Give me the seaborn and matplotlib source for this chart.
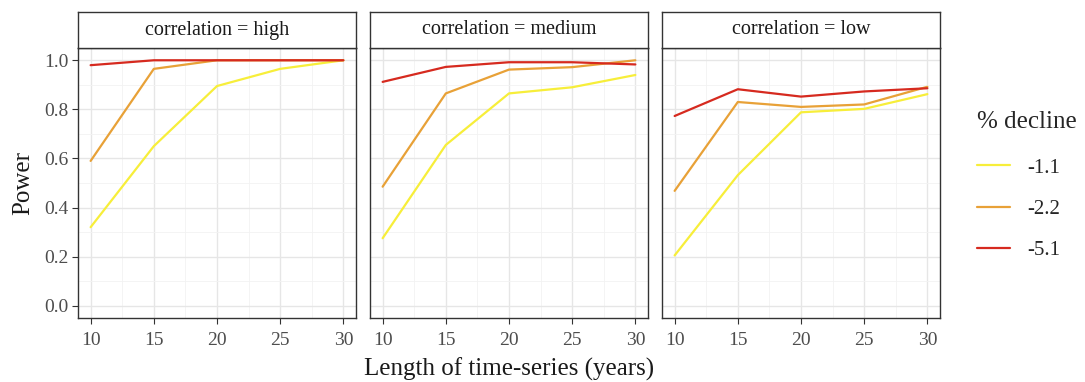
import numpy as np
import pandas as pd
import seaborn as sns
import matplotlib.pyplot as plt
from matplotlib.lines import Line2D
from matplotlib.ticker import MultipleLocator

# values
years = [10, 15, 20, 25, 30]
correlations = ["high", "medium", "low"]
declines = ["-1.1", "-2.2", "-5.1"]

high_11 = [0.32, 0.65, 0.895, 0.965, 1.0]
high_22 = [0.59, 0.965, 1.0, 1.0, 1.0]
high_51 = [0.98, 1.0, 1.0, 1.0, 1.0]

medium_11 = [0.275, 0.655, 0.865, 0.89, 0.94]
medium_22 = [0.485, 0.865, 0.962, 0.972, 1.0]
medium_51 = [0.912, 0.973, 0.992, 0.992, 0.983]

low_11 = [0.205, 0.532, 0.788, 0.802, 0.862]
low_22 = [0.468, 0.83, 0.81, 0.82, 0.892]
low_51 = [0.773, 0.882, 0.852, 0.873, 0.886]

series = {
    ("high", "-1.1"): high_11, ("high", "-2.2"): high_22, ("high", "-5.1"): high_51,
    ("medium", "-1.1"): medium_11, ("medium", "-2.2"): medium_22, ("medium", "-5.1"): medium_51,
    ("low", "-1.1"): low_11, ("low", "-2.2"): low_22, ("low", "-5.1"): low_51,
}

rows = []
for (corr, dec), vals in series.items():
    for yr, v in zip(years, vals):
        rows.append({"correlation": corr, "decline": dec, "years": yr, "power": v})
df = pd.DataFrame(rows)

colors = {"-1.1": "#F7EE3A", "-2.2": "#E8A137", "-5.1": "#D62A1F"}

sns.set_style("white")
plt.rcParams["font.family"] = ["Liberation Serif", "DejaVu Serif"]

fig = plt.figure(figsize=(10.85, 3.82), dpi=100)
W, H = 1085, 382
lefts = [78, 370, 662]
pw = 278
top, bottom = 48, 318

axes = []
for i, corr in enumerate(correlations):
    ax = fig.add_axes([lefts[i] / W, (H - bottom) / H, pw / W, (bottom - top) / H])
    axes.append(ax)
    sub = df[df["correlation"] == corr]
    sns.lineplot(data=sub, x="years", y="power", hue="decline", hue_order=declines,
                 palette=colors, linewidth=1.6, legend=False, ax=ax)
    ax.set_xlim(9, 31)
    ax.set_ylim(-0.05, 1.05)
    ax.set_xticks(years)
    ax.xaxis.set_minor_locator(MultipleLocator(2.5))
    ax.set_yticks([0.0, 0.2, 0.4, 0.6, 0.8, 1.0])
    ax.yaxis.set_minor_locator(MultipleLocator(0.1))
    ax.grid(True, which="major", color="#E6E6E6", linewidth=1.0)
    ax.grid(True, which="minor", color="#F2F2F2", linewidth=0.6)
    ax.set_axisbelow(True)
    for sp in ax.spines.values():
        sp.set_color("#333333")
        sp.set_linewidth(1.0)
    ax.tick_params(axis="both", which="major", length=4, color="#333333", pad=3,
                   labelsize=14, labelcolor="#4D4D4D", direction="out", bottom=True, left=(i == 0))
    ax.tick_params(axis="x", pad=6)
    ax.tick_params(which="minor", length=0)
    ax.set_xlabel("")
    ax.set_ylabel("")
    if i == 0:
        ax.yaxis.set_major_formatter(plt.FuncFormatter(lambda v, p: f"{v:.1f}"))
    else:
        ax.set_yticklabels([])

    # facet strip
    sax = fig.add_axes([lefts[i] / W, (H - top) / H, pw / W, 36 / H])
    sax.set_xticks([])
    sax.set_yticks([])
    sax.set_facecolor("white")
    for sp in sax.spines.values():
        sp.set_color("#333333")
        sp.set_linewidth(1.0)
    sax.text(0.5, 0.5, f"correlation = {corr}", ha="center", va="center",
             fontsize=14.5, color="#1A1A1A", transform=sax.transAxes)

fig.text((lefts[0] + lefts[2] + pw) / 2 / W, 1 / H, "Length of time-series (years)",
         ha="center", va="bottom", fontsize=18, color="#1A1A1A")
fig.text(12 / W, (H - (top + bottom) / 2) / H, "Power", rotation=90,
         ha="left", va="center", fontsize=18, color="#1A1A1A")

handles = [Line2D([0], [0], color=colors[d], linewidth=1.6) for d in declines]
leg = fig.legend(handles, declines, title="% decline", loc="upper left",
                 bbox_to_anchor=(977 / W, (H - 111) / H), frameon=False,
                 fontsize=15, title_fontsize=18, handlelength=1.6,
                 labelspacing=1.05, handletextpad=0.8, borderpad=0,
                 borderaxespad=0, alignment="left")
leg._legend_box.sep = 18

fig.savefig("out.png", dpi=100)
